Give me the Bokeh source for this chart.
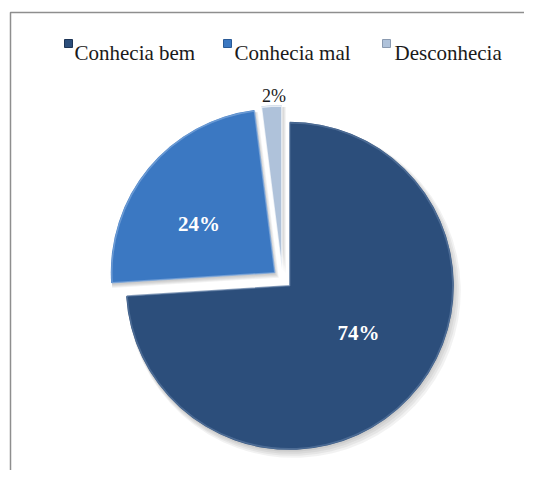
import numpy as np
from bokeh.plotting import figure
from bokeh.models import Range1d, ColumnDataSource
from bokeh.core.properties import value
from bokeh.embed import file_html
from bokeh.resources import INLINE

# ---------------- data ----------------
categories = ["Conhecia bem", "Conhecia mal", "Desconhecia"]
percentages = [74, 24, 2]
slice_labels = ["74%", "24%", "2%"]

# ---------------- styles ----------------
SERIF = value("Liberation Serif")
colors = ["#2C4E7B", "#3B78C2", "#AFC2DA"]
rim_colors = ["#5A77A0", "#7FA8DC", "#FFFFFF"]
label_colors = ["white", "white", "#1A1A1A"]
label_styles = ["bold", "bold", "normal"]
label_sizes = ["21px", "21px", "18px"]
label_radius_frac = [0.50, 0.56, 1.06]
label_nudge = [(9, 9), (-5, -10), (3, 0)]

# ---------------- layout (pixels) ----------------
W, H = 524, 470
cx, cy = 282, 191.5
R = 164
EXPLODE = 10
legend_marker_x = [68, 227, 386]
legend_text_x = [74, 234, 394]
legend_marker_y = 427
legend_text_y = 418
border_x, border_top = 10, 458

p = figure(width=W, height=H, x_range=Range1d(0, W), y_range=Range1d(0, H),
           output_backend="svg", toolbar_location=None, min_border=0)
p.axis.visible = False
p.grid.visible = False
p.outline_line_color = None
p.background_fill_color = "white"
p.border_fill_color = "white"

# chart-area border (left and top edges visible)
p.line(x=[border_x, border_x, W], y=[0, border_top, border_top],
       line_color="#8E8E8E", line_width=1.5)

vals = np.array(percentages, dtype=float)
frac = vals / vals.sum()
cum = np.concatenate([[0.0], np.cumsum(frac)])
start = np.pi / 2 - cum[1:] * 2 * np.pi
end = np.pi / 2 - cum[:-1] * 2 * np.pi
mid = (start + end) / 2
xs = cx + EXPLODE * np.cos(mid)
ys = cy + EXPLODE * np.sin(mid)

src = ColumnDataSource(dict(x=xs, y=ys, start=start, end=end, color=colors,
                            rim=rim_colors, cat=categories))

# soft shadow
for dx, dy, extra in [(4, -5, 3), (3, -4, 2), (2, -3, 1), (1, -2, 0)]:
    p.wedge(x=xs + dx, y=ys + dy, radius=R + extra, start_angle=start, end_angle=end,
            fill_color="black", fill_alpha=0.05, line_color=None)

p.wedge(x="x", y="y", radius=R, start_angle="start", end_angle="end",
        fill_color="color", line_color=None, source=src)
p.wedge(x="x", y="y", radius=R - 1, start_angle="start", end_angle="end",
        fill_color=None, line_color="rim", line_width=1.5, line_alpha=0.7, source=src)

# slice labels
for i, lab in enumerate(slice_labels):
    lx = xs[i] + label_radius_frac[i] * R * np.cos(mid[i]) + label_nudge[i][0]
    ly = ys[i] + label_radius_frac[i] * R * np.sin(mid[i]) + label_nudge[i][1]
    p.text(x=[lx], y=[ly], text=[lab], text_font=SERIF,
           text_font_size=label_sizes[i], text_font_style=label_styles[i],
           text_color=label_colors[i], text_align="center", text_baseline="middle")

# legend
p.scatter(x=legend_marker_x, y=[legend_marker_y] * 3, marker="square", size=8,
          fill_color=colors, line_color=["#1E3556", "#2A5A96", "#8A9AB0"], line_width=1)
p.text(x=legend_text_x, y=[legend_text_y] * 3, text=categories,
       text_font=SERIF, text_font_size="21px",
       text_color="#1A1A1A", text_align="left", text_baseline="alphabetic")

open("out.html", "w").write(file_html(p, INLINE))
